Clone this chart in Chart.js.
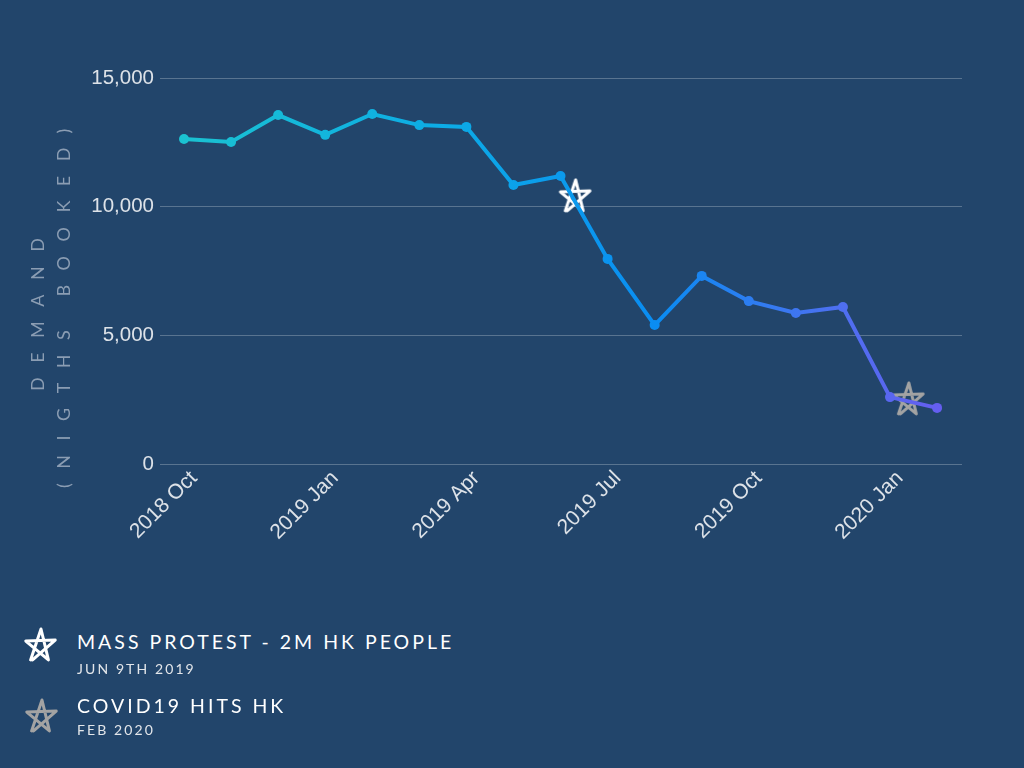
<!DOCTYPE html>
<html>
<head>
<meta charset="utf-8">
<script src="https://cdn.jsdelivr.net/npm/chart.js@4.4.1/dist/chart.umd.min.js"></script>
<style>
html, body { margin: 0; padding: 0; background: #22456b; width: 1024px; height: 768px; overflow: hidden; }
#wrap { position: absolute; left: 0; top: 0; width: 1024px; height: 600px; }
.ico { position: absolute; }
.ttl, .sub { position: absolute; left: 77px; font-family: Lato, 'Open Sans', sans-serif; white-space: nowrap; }
.ttl { font-size: 19.5px; letter-spacing: 3px; color: #ffffff; font-weight: 400; }
.sub { font-size: 14px; letter-spacing: 2.1px; color: #e3e6ea; }
</style>
</head>
<body>
<div id="wrap"><canvas id="demandChart"></canvas></div>
<div id="notes"></div>
<script>
const months = ['2018 Oct', '2018 Nov', '2018 Dec', '2019 Jan', '2019 Feb', '2019 Mar', '2019 Apr',
    '2019 May', '2019 Jun', '2019 Jul', '2019 Aug', '2019 Sep', '2019 Oct', '2019 Nov', '2019 Dec',
    '2020 Jan', '2020 Feb'];
const demand = [12630, 12510, 13560, 12790, 13600, 13170, 13100, 10840, 11190, 7970, 5400, 7310,
    6330, 5870, 6100, 2600, 2180];
const yTicks = [0, 5000, 10000, 15000];

// events marked with stars (x = month index, fractional for day of month)
const eventTitles = ['MASS PROTEST - 2M HK PEOPLE', 'COVID19 HITS HK'];
const eventDates = ['JUN 9TH 2019', 'FEB 2020'];
const eventX = [8.3, 15.38];
const eventY = [10420, 2530];
const eventColors = ['#ffffff', '#a3a3a3'];

const axisTitle = ['DEMAND', '(NIGTHS BOOKED)'];

// hand drawn looking pentagram
function drawStar(ctx, cx, cy, r, color) {
    const pts = [];
    for (let i = 0; i < 5; i++) {
        const a = -Math.PI / 2 + i * 2 * Math.PI / 5;
        pts.push([cx + Math.cos(a) * r, cy + Math.sin(a) * r]);
    }
    const order = [3, 0, 2, 4, 1, 3];
    const wobble = [[0, 1], [1, -1], [-1, 1], [1, 0], [0, -1], [2, 1]];
    ctx.save();
    ctx.strokeStyle = color;
    ctx.lineWidth = 3;
    ctx.lineJoin = 'round';
    ctx.lineCap = 'round';
    ctx.beginPath();
    order.forEach((k, i) => {
        const x = pts[k][0] + wobble[i][0];
        const y = pts[k][1] + wobble[i][1];
        if (i === 0) ctx.moveTo(x, y); else ctx.lineTo(x, y);
    });
    ctx.stroke();
    ctx.restore();
}

function starCanvas(color, size) {
    const c = document.createElement('canvas');
    c.width = size; c.height = size;
    drawStar(c.getContext('2d'), size / 2, size / 2 + 1, size / 2 - 2, color);
    return c;
}

const starImgs = eventColors.map(c => starCanvas(c, 36));

let grad = null, gradKey = '';
function lineGradient(ctx) {
    const chart = ctx.chart;
    const ca = chart.chartArea;
    if (!ca) return '#0a9cee';
    const key = ca.left + '-' + ca.right;
    if (!grad || gradKey !== key) {
        grad = chart.ctx.createLinearGradient(ca.left, 0, ca.right, 0);
        grad.addColorStop(0, '#1cc4cf');
        grad.addColorStop(0.36, '#0cabe6');
        grad.addColorStop(0.62, '#0a8cf2');
        grad.addColorStop(0.84, '#4c70f0');
        grad.addColorStop(1, '#6b5af0');
        gradKey = key;
    }
    return grad;
}

const yTitlePlugin = {
    id: 'yTitle',
    afterDraw(chart) {
        const ctx = chart.ctx;
        ctx.save();
        ctx.fillStyle = '#8b9db3';
        ctx.font = '400 18px Lato, sans-serif';
        ctx.letterSpacing = '14.5px';
        ctx.textBaseline = 'middle';
        ctx.textAlign = 'left';
        const starts = [[38, 391], [64, 488]];
        axisTitle.forEach((t, i) => {
            ctx.save();
            ctx.translate(starts[i][0], starts[i][1]);
            ctx.rotate(-Math.PI / 2);
            ctx.fillText(t, 0, 0);
            ctx.restore();
        });
        ctx.restore();
    }
};

new Chart(document.getElementById('demandChart'), {
    type: 'line',
    data: {
        datasets: [{
            data: demand.map((v, i) => ({x: i, y: v})),
            borderColor: lineGradient,
            backgroundColor: lineGradient,
            pointBackgroundColor: lineGradient,
            pointBorderWidth: 0,
            pointRadius: 5,
            borderWidth: 4,
            tension: 0,
        }, {
            data: eventX.map((x, i) => ({x: x, y: eventY[i]})),
            showLine: false,
            pointStyle: starImgs,
            pointRadius: 18,
        }]
    },
    options: {
        responsive: true,
        maintainAspectRatio: false,
        animation: false,
        layout: {padding: {top: 78, right: 62, left: 0, bottom: 0}},
        plugins: {legend: {display: false}, tooltip: {enabled: false}},
        scales: {
            x: {
                type: 'linear',
                min: -0.51,
                max: 16.53,
                afterBuildTicks: s => { s.ticks = months.map((m, i) => ({value: i})).filter(t => t.value % 3 === 0); },
                afterFit: s => { s.height = 136; },
                grid: {display: false},
                border: {display: false},
                ticks: {
                    color: '#dde2e8',
                    font: {family: 'Liberation Sans, Arial, sans-serif', size: 21},
                    maxRotation: 45,
                    minRotation: 45,
                    padding: -6,
                    labelOffset: 10,
                    callback: v => months[v] || '',
                },
            },
            y: {
                min: 0,
                max: 15000,
                afterBuildTicks: s => { s.ticks = yTicks.map(v => ({value: v})); },
                afterFit: s => { s.width = 160; },
                grid: {color: '#597490', lineWidth: 1, drawTicks: false},
                border: {display: false},
                ticks: {
                    color: '#dde2e8',
                    font: {family: 'Liberation Sans, Arial, sans-serif', size: 20.5},
                    padding: 6,
                    callback: v => v.toLocaleString('en-US'),
                },
            },
        },
    },
    plugins: [yTitlePlugin],
});

// event notes under the chart
const notes = document.getElementById('notes');
const noteTop = [630, 694];
const subGap = [30, 27];
const iconCenter = [[40, 645], [41, 716]];
eventTitles.forEach((t, i) => {
    const ic = starCanvas(eventColors[i], 36);
    ic.className = 'ico';
    ic.style.left = (iconCenter[i][0] - 18) + 'px';
    ic.style.top = (iconCenter[i][1] - 18) + 'px';
    notes.appendChild(ic);
    const d1 = document.createElement('div');
    d1.className = 'ttl';
    d1.style.top = noteTop[i] + 'px';
    d1.textContent = t;
    notes.appendChild(d1);
    const d2 = document.createElement('div');
    d2.className = 'sub';
    d2.style.top = (noteTop[i] + subGap[i]) + 'px';
    d2.textContent = eventDates[i];
    notes.appendChild(d2);
});
</script>
</body>
</html>
